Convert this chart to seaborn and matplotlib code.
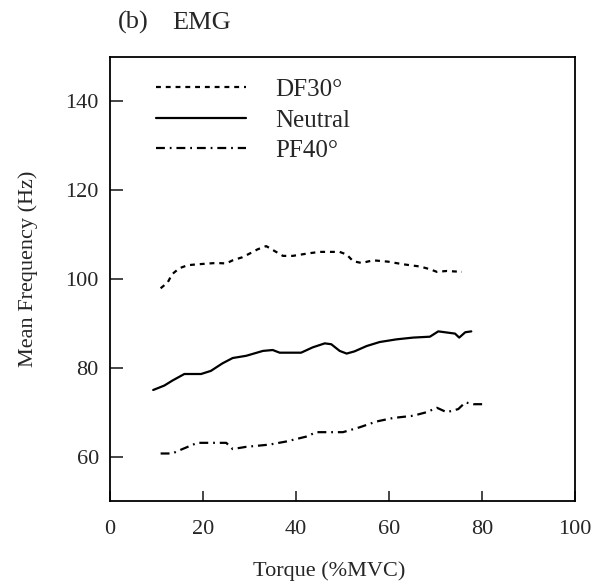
import numpy as np
import pandas as pd
import matplotlib
matplotlib.use("Agg")
import matplotlib.pyplot as plt
import seaborn as sns

# Data (Torque %MVC vs Mean Frequency Hz)
df30_x = [10.9, 12.4, 13.4, 14.9, 16.7, 18.8, 22.8, 25.0, 26.4, 28.5, 30.0, 31.8, 33.6, 35.4, 37.2,
          39.3, 42.9, 45.1, 49.4, 50.9, 52.3, 54.1, 56.6, 59.8, 63.1, 66.7, 68.8, 70.3, 72.4, 75.7]
df30_y = [97.9, 99.2, 101.1, 102.4, 103.1, 103.3, 103.6, 103.5, 104.2, 104.9, 105.7, 106.7, 107.4, 106.3, 105.2,
          105.2, 105.8, 106.1, 106.1, 105.5, 104.0, 103.6, 104.2, 103.9, 103.3, 102.8, 102.2, 101.6, 101.8, 101.6]

neutral_x = [9.3, 11.7, 13.4, 16.0, 19.6, 21.7, 24.2, 26.4, 29.3, 32.9, 35.0, 36.5, 41.1, 43.6, 46.2,
             47.6, 49.4, 50.9, 52.6, 55.2, 58.0, 61.6, 65.2, 68.8, 70.6, 74.2, 75.1, 76.4, 77.7]
neutral_y = [75.0, 76.0, 77.1, 78.6, 78.6, 79.3, 81.0, 82.2, 82.7, 83.8, 84.0, 83.4, 83.4, 84.6, 85.5,
             85.3, 83.8, 83.2, 83.7, 84.9, 85.8, 86.4, 86.8, 87.0, 88.2, 87.7, 86.8, 88.0, 88.2]

pf40_x = [10.9, 13.4, 15.6, 18.8, 25.0, 26.4, 29.3, 34.3, 37.9, 42.2, 44.4, 50.1, 53.7, 57.3, 60.9,
          65.2, 68.1, 70.3, 72.4, 74.9, 76.4, 78.2, 80.3]
pf40_y = [60.7, 60.7, 61.7, 63.1, 63.1, 61.7, 62.2, 62.7, 63.4, 64.5, 65.5, 65.5, 66.6, 67.9, 68.7,
          69.2, 70.0, 71.0, 70.0, 70.7, 72.2, 71.8, 71.8]

labels = ["DF30°", "Neutral", "PF40°"]

data = pd.concat([
    pd.DataFrame({"torque": df30_x, "freq": df30_y, "cond": labels[0]}),
    pd.DataFrame({"torque": neutral_x, "freq": neutral_y, "cond": labels[1]}),
    pd.DataFrame({"torque": pf40_x, "freq": pf40_y, "cond": labels[2]}),
], ignore_index=True)

sns.set_style("ticks")
plt.rcParams["font.family"] = ["Liberation Serif", "DejaVu Serif"]

fig = plt.figure(figsize=(6.04, 5.87), dpi=100)
ax = fig.add_axes([0.182, 0.1465, 0.770, 0.7565])

dashes = {labels[0]: (2.2, 2.2), labels[1]: "", labels[2]: (4, 2.2, 0.8, 2.2)}
sns.lineplot(data=data, x="torque", y="freq", hue="cond", style="cond",
             palette={l: "black" for l in labels}, dashes=dashes,
             sort=False, estimator=None, linewidth=1.6, ax=ax)

ax.set_xlim(0, 100)
ax.set_ylim(50, 150)
ax.set_xticks([0, 20, 40, 60, 80, 100])
ax.set_yticks([60, 80, 100, 120, 140])
ax.tick_params(direction="in", width=1.2, labelsize=16)
ax.tick_params(axis="y", length=9, pad=8)
ax.tick_params(axis="x", length=7, pad=14)
for s in ax.spines.values():
    s.set_linewidth(1.3)
    s.set_color("black")

ax.set_xlabel("Torque (%MVC)", fontsize=16, labelpad=16)
ax.set_ylabel("Mean Frequency (Hz)", fontsize=16, labelpad=20)
ax.xaxis.label.set_x(0.472)
ax.yaxis.label.set_y(0.5225)

leg = ax.legend(loc="upper left", frameon=False, fontsize=18, handlelength=3.6,
                handletextpad=1.15, labelspacing=0.32, borderpad=0, borderaxespad=0,
                bbox_to_anchor=(0.099, 0.951))

fig.text(118 / 604, 0.961, "(b)", fontsize=19, ha="left", va="center")
fig.text(172 / 604, 0.961, "EMG", fontsize=19, ha="left", va="center")

fig.savefig("out.png", dpi=100, facecolor="white")
